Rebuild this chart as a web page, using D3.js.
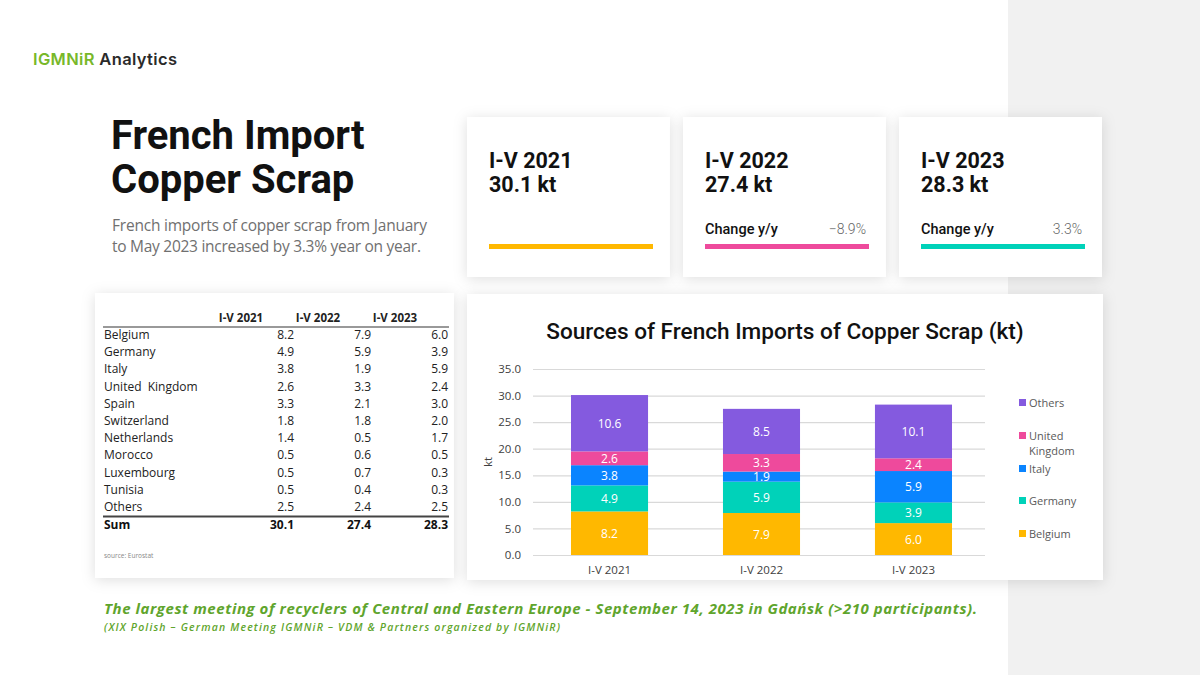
<!DOCTYPE html>
<html>
<head>
<meta charset="utf-8">
<script src="https://cdn.jsdelivr.net/npm/d3@7"></script>
<style>
  body { margin: 0; background: #fff; }
  svg { display: block; }
  .tick text { font-family: "Open Sans", sans-serif; }
</style>
</head>
<body>
<svg width="1200" height="675"></svg>
<script>
//table data
const tablePeriods = ['I-V 2021', 'I-V 2022', 'I-V 2023'];
const tableCountries = ['Belgium', 'Germany', 'Italy', 'United  Kingdom', 'Spain', 'Switzerland',
  'Netherlands', 'Morocco', 'Luxembourg', 'Tunisia', 'Others'];
const table2021 = [8.2, 4.9, 3.8, 2.6, 3.3, 1.8, 1.4, 0.5, 0.5, 0.5, 2.5];
const table2022 = [7.9, 5.9, 1.9, 3.3, 2.1, 1.8, 0.5, 0.6, 0.7, 0.4, 2.4];
const table2023 = [6.0, 3.9, 5.9, 2.4, 3.0, 2.0, 1.7, 0.5, 0.3, 0.3, 2.5];
const tableSums = [30.1, 27.4, 28.3];

//card data
const cardTotals = [30.1, 27.4, 28.3];
const cardChanges = [null, -8.9, 3.3];

//chart data
const chartPeriods = ['I-V 2021', 'I-V 2022', 'I-V 2023'];
const chartSeries = ['Belgium', 'Germany', 'Italy', 'United Kingdom', 'Others'];
const belgium = [8.2, 7.9, 6.0];
const germany = [4.9, 5.9, 3.9];
const italy = [3.8, 1.9, 5.9];
const unitedKingdom = [2.6, 3.3, 2.4];
const others = [10.6, 8.5, 10.1];
const yTicks = [0, 5, 10, 15, 20, 25, 30, 35];

const colors = {
  'Belgium': '#ffb800',
  'Germany': '#00d2b9',
  'Italy': '#0a84ff',
  'United Kingdom': '#ee4a9c',
  'Others': '#845adf'
};
const cardColors = ['#ffb800', '#ee4a9c', '#00d2b9'];

const svg = d3.select('svg');

//shadow filter
const defs = svg.append('defs');
const shadow = defs.append('filter').attr('id', 'shadow')
  .attr('x', '-20%').attr('y', '-20%').attr('width', '140%').attr('height', '140%');
shadow.append('feDropShadow')
  .attr('dx', 0).attr('dy', 2).attr('stdDeviation', 7)
  .attr('flood-color', '#000').attr('flood-opacity', 0.13);

//background, gray strip on the right
svg.append('rect').attr('width', 1200).attr('height', 675).attr('fill', '#fff');
svg.append('rect').attr('x', 1008).attr('width', 192).attr('height', 675).attr('fill', '#f1f1f1');

//logo
const logo = svg.append('text')
  .attr('x', 33).attr('y', 65).attr('textLength', 144)
  .style('font-family', 'Inter, sans-serif').style('font-size', '16.5px').style('font-weight', 600);
logo.append('tspan').attr('fill', '#78b82a').text('IGMNiR');
logo.append('tspan').attr('fill', '#2a2a2a').text(' Analytics');

//title
const title = svg.append('text')
  .style('font-family', 'Roboto, sans-serif').style('font-size', '40px').style('font-weight', 700)
  .attr('fill', '#111');
title.append('tspan').attr('x', 111).attr('y', 149).text('French Import');
title.append('tspan').attr('x', 111).attr('y', 193).text('Copper Scrap');

const sub = svg.append('text')
  .style('font-family', '"Open Sans", sans-serif').style('font-size', '15.5px').style('font-weight', 400)
  .attr('fill', '#707070');
sub.append('tspan').attr('x', 112).attr('y', 231).attr('textLength', 315).text('French imports of copper scrap from January');
sub.append('tspan').attr('x', 112).attr('y', 252).attr('textLength', 309).text('to May 2023 increased by 3.3% year on year.');

//cards
const cardX = [467, 683, 899];
cardX.forEach((cx, i) => {
  const g = svg.append('g').attr('transform', `translate(${cx}, 117)`);
  g.append('rect').attr('width', 203).attr('height', 160).attr('fill', '#fff').attr('filter', 'url(#shadow)');
  g.append('text').attr('x', 22).attr('y', 51)
    .style('font-family', 'Roboto, sans-serif').style('font-size', '21.5px').style('font-weight', 700)
    .attr('fill', '#111').text(chartPeriods[i]);
  g.append('text').attr('x', 22).attr('y', 75)
    .style('font-family', 'Roboto, sans-serif').style('font-size', '21.5px').style('font-weight', 700)
    .attr('fill', '#111').text(d3.format('.1f')(cardTotals[i]) + ' kt');
  if (cardChanges[i] !== null) {
    g.append('text').attr('x', 22).attr('y', 117)
      .style('font-family', 'Roboto, sans-serif').style('font-size', '14.5px').style('font-weight', 500)
      .attr('fill', '#111').text('Change y/y');
    g.append('text').attr('x', 183).attr('y', 117).attr('text-anchor', 'end')
      .style('font-family', 'Roboto, sans-serif').style('font-size', '14px').style('font-weight', 300)
      .attr('fill', '#666').text(d3.format('.1f')(cardChanges[i]) + '%');
  }
  g.append('rect').attr('x', 22).attr('y', 127).attr('width', 164).attr('height', 5)
    .attr('fill', cardColors[i]);
});

//table panel
const tg = svg.append('g');
tg.append('rect').attr('x', 95).attr('y', 293).attr('width', 359).attr('height', 285)
  .attr('fill', '#fff').attr('filter', 'url(#shadow)');

const colCenters = [241, 318, 395];
const colRights = [294, 371, 448];
const rowY = d3.scaleLinear().domain([0, 10]).range([339, 511]);

tg.selectAll('.thead').data(tablePeriods).enter().append('text')
  .attr('x', (d, i) => colCenters[i]).attr('y', 322).attr('text-anchor', 'middle')
  .style('font-family', '"Open Sans", sans-serif').style('font-size', '11.5px').style('font-weight', 700)
  .attr('fill', '#222').text(d => d);
tg.append('line').attr('x1', 103).attr('x2', 449).attr('y1', 327).attr('y2', 327)
  .attr('stroke', '#777').attr('stroke-width', 1.6);

const cols = [table2021, table2022, table2023];
tableCountries.forEach((c, r) => {
  tg.append('text').attr('x', 104).attr('y', rowY(r))
    .style('font-family', '"Open Sans", sans-serif').style('font-size', '12px')
    .style('white-space', 'pre').attr('fill', '#222').text(c);
  cols.forEach((col, j) => {
    tg.append('text').attr('x', colRights[j]).attr('y', rowY(r)).attr('text-anchor', 'end')
      .style('font-family', '"Open Sans", sans-serif').style('font-size', '12px')
      .attr('fill', '#222').text(d3.format('.1f')(col[r]));
  });
});
tg.append('line').attr('x1', 103).attr('x2', 449).attr('y1', 516.5).attr('y2', 516.5)
  .attr('stroke', '#444').attr('stroke-width', 2);
tg.append('text').attr('x', 104).attr('y', 529)
  .style('font-family', '"Open Sans", sans-serif').style('font-size', '12px').style('font-weight', 700)
  .attr('fill', '#111').text('Sum');
tableSums.forEach((s, j) => {
  tg.append('text').attr('x', colRights[j]).attr('y', 529).attr('text-anchor', 'end')
    .style('font-family', '"Open Sans", sans-serif').style('font-size', '12px').style('font-weight', 700)
    .attr('fill', '#111').text(d3.format('.1f')(s));
});
tg.append('text').attr('x', 104).attr('y', 558)
  .style('font-family', '"Open Sans", sans-serif').style('font-size', '6.5px')
  .attr('fill', '#888').text('source: Eurostat');

//chart panel
const cg = svg.append('g');
cg.append('rect').attr('x', 467).attr('y', 294).attr('width', 636).attr('height', 286)
  .attr('fill', '#fff').attr('filter', 'url(#shadow)');
cg.append('text').attr('x', 785).attr('y', 339).attr('text-anchor', 'middle')
  .style('font-family', 'Roboto, sans-serif').style('font-size', '22.6px').style('font-weight', 500)
  .attr('fill', '#111').text('Sources of French Imports of Copper Scrap (kt)');

const margin = {left: 533, right: 985, top: 369, bottom: 555};
const yScale = d3.scaleLinear().domain([0, 35]).range([margin.bottom, margin.top]);
const xScale = d3.scaleBand().domain(chartPeriods).range([margin.left, 990])
  .paddingInner(0.493).paddingOuter(0.25);

const yAxis = cg.append('g').attr('transform', `translate(${margin.left}, 0)`)
  .call(d3.axisLeft(yScale).tickValues(yTicks).tickFormat(d3.format('.1f'))
    .tickSize(-(margin.right - margin.left)).tickPadding(12));
yAxis.select('.domain').remove();
yAxis.selectAll('.tick line').attr('stroke', '#d9d9d9').attr('stroke-width', 1.2);
yAxis.selectAll('.tick text').attr('fill', '#404040').style('font-size', '11.5px');

const xAxis = cg.append('g').attr('transform', `translate(0, ${margin.bottom})`)
  .call(d3.axisBottom(xScale).tickSize(0).tickPadding(11));
xAxis.select('.domain').remove();
xAxis.selectAll('.tick text').attr('fill', '#404040').style('font-size', '11.5px');

cg.append('text').attr('transform', 'translate(492, 462) rotate(-90)').attr('text-anchor', 'middle')
  .style('font-family', '"Open Sans", sans-serif').style('font-size', '11.5px')
  .attr('fill', '#404040').text('kt');

//stacked bars
const seriesValues = [belgium, germany, italy, unitedKingdom, others];
const rows = chartPeriods.map((p, i) => {
  const row = {period: p};
  chartSeries.forEach((s, j) => { row[s] = seriesValues[j][i]; });
  return row;
});
const stacked = d3.stack().keys(chartSeries)(rows);

const layers = cg.selectAll('.layer').data(stacked).enter().append('g')
  .attr('fill', d => colors[d.key]);
layers.selectAll('rect').data(d => d).enter().append('rect')
  .attr('x', d => xScale(d.data.period))
  .attr('y', d => yScale(d[1]))
  .attr('width', xScale.bandwidth())
  .attr('height', d => yScale(d[0]) - yScale(d[1]));
layers.selectAll('text').data(d => d.map(v => ({v, key: d.key}))).enter().append('text')
  .attr('x', d => xScale(d.v.data.period) + xScale.bandwidth() / 2)
  .attr('y', d => (yScale(d.v[0]) + yScale(d.v[1])) / 2 + 4.5)
  .attr('text-anchor', 'middle')
  .style('font-family', '"Open Sans", sans-serif').style('font-size', '12px')
  .attr('fill', '#fff').text(d => d3.format('.1f')(d.v.data[d.key]));

//legend
const legendItems = [
  {key: 'Others', lines: ['Others'], y: 403},
  {key: 'United Kingdom', lines: ['United', 'Kingdom'], y: 436},
  {key: 'Italy', lines: ['Italy'], y: 469},
  {key: 'Germany', lines: ['Germany'], y: 501},
  {key: 'Belgium', lines: ['Belgium'], y: 534}
];
legendItems.forEach(item => {
  cg.append('rect').attr('x', 1019).attr('y', item.y - 4).attr('width', 7).attr('height', 7)
    .attr('fill', colors[item.key]);
  const t = cg.append('text')
    .style('font-family', '"Open Sans", sans-serif').style('font-size', '11px').attr('fill', '#595959');
  item.lines.forEach((l, k) => {
    t.append('tspan').attr('x', 1029).attr('y', item.y + 4 + k * 15).text(l);
  });
});

//footer
svg.append('text').attr('x', 104).attr('y', 614).attr('textLength', 873)
  .style('font-family', '"Open Sans", sans-serif').style('font-size', '15px')
  .style('font-weight', 700).style('font-style', 'italic').attr('fill', '#5fa52d')
  .text('The largest meeting of recyclers of Central and Eastern Europe - September 14, 2023 in Gdańsk (>210 participants).');
svg.append('text').attr('x', 104).attr('y', 631).attr('textLength', 456)
  .style('font-family', '"Open Sans", sans-serif').style('font-size', '10.5px')
  .style('font-weight', 600).style('font-style', 'italic').attr('fill', '#5fa52d')
  .text('(XIX Polish – German Meeting IGMNiR – VDM & Partners organized by IGMNiR)');
</script>
</body>
</html>
